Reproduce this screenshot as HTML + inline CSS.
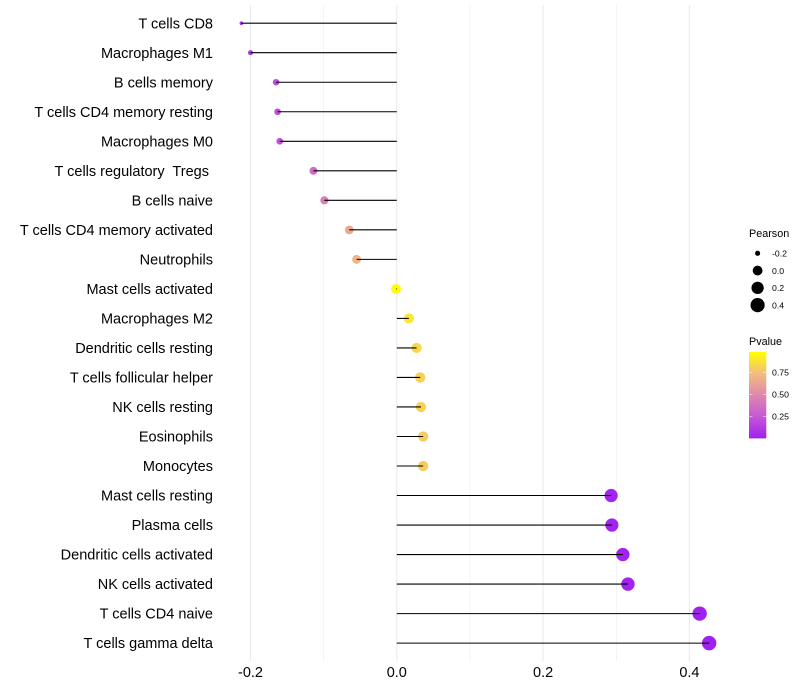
<!DOCTYPE html>
<html>
<head>
<meta charset="utf-8">
<style>
html,body{margin:0;padding:0;background:#fff;width:800px;height:700px;overflow:hidden}
svg{display:block;font-family:"Liberation Sans",sans-serif}
text{white-space:pre}
</style>
</head>
<body>
<svg id="chart" xmlns="http://www.w3.org/2000/svg" width="800" height="700" viewBox="0 0 800 700">
  <defs>
    <linearGradient id="pvalue-gradient" x1="0" y1="1" x2="0" y2="0">
      <stop offset="0" stop-color="#A020F0"/>
      <stop offset="0.25" stop-color="#C458D4"/>
      <stop offset="0.5" stop-color="#DF88AE"/>
      <stop offset="0.75" stop-color="#F3BC7E"/>
      <stop offset="1" stop-color="#FFFF00"/>
    </linearGradient>
  </defs>
  <rect x="0" y="0" width="800" height="700" fill="#ffffff"/>
  <g id="grid"></g>
  <g id="points"></g>
  <g id="segments"></g>
  <g id="ylabels"></g>
  <g id="xlabels"></g>
  <g id="size-legend">
    <text x="749" y="237" font-size="10.8" fill="#000">Pearson</text>
  </g>
  <g id="color-legend">
    <text x="749" y="345" font-size="10.8" fill="#000">Pvalue</text>
    <rect x="749" y="352" width="17.3" height="86.4" fill="url(#pvalue-gradient)"/>
  </g>
</svg>
<script>
const categories = ["T cells CD8","Macrophages M1","B cells memory","T cells CD4 memory resting","Macrophages M0","T cells regulatory  Tregs ","B cells naive","T cells CD4 memory activated","Neutrophils","Mast cells activated","Macrophages M2","Dendritic cells resting","T cells follicular helper","NK cells resting","Eosinophils","Monocytes","Mast cells resting","Plasma cells","Dendritic cells activated","NK cells activated","T cells CD4 naive","T cells gamma delta"];
const pearson = [-0.2125,-0.2,-0.165,-0.163,-0.16,-0.114,-0.099,-0.065,-0.055,-0.001,0.0165,0.027,0.032,0.033,0.036,0.036,0.293,0.294,0.309,0.316,0.414,0.427];
const pvalue = [0.10,0.12,0.20,0.21,0.22,0.36,0.45,0.66,0.71,0.99,0.91,0.85,0.83,0.83,0.81,0.81,0.02,0.02,0.015,0.012,0.001,0.001];
const xTicks = [-0.2,0,0.2,0.4];
const xTickLabels = ["-0.2","0.0","0.2","0.4"];
const xMinorTicks = [-0.1,0.1,0.3];
const sizeLegendValues = [-0.2,0,0.2,0.4];
const sizeLegendLabels = ["-0.2","0.0","0.2","0.4"];
const colorLegendValues = [0.75,0.5,0.25];
const colorLegendLabels = ["0.75","0.50","0.25"];

const NS = "http://www.w3.org/2000/svg";
function make(tag, attrs, parent) {
  const el = document.createElementNS(NS, tag);
  for (const k in attrs) el.setAttribute(k, attrs[k]);
  parent.appendChild(el);
  return el;
}
function x(v) { return 396.8 + v * 731.5; }
function y(i) { return 23.2 + i * 29.52; }
const sizeMin = Math.min(...pearson);
const sizeMax = Math.max(...pearson);
function radius(v) { return 1.8 + 5.4 * Math.sqrt(Math.max(0, (v - sizeMin) / (sizeMax - sizeMin))); }
const colorStops = [[0,[160,32,240]],[0.25,[196,88,212]],[0.5,[223,136,174]],[0.75,[243,188,126]],[1,[255,255,0]]];
function color(p) {
  for (let i = 1; i < colorStops.length; i++) {
    if (p <= colorStops[i][0]) {
      const a = colorStops[i-1], b = colorStops[i];
      const t = (p - a[0]) / (b[0] - a[0]);
      const c = a[1].map((ch, j) => Math.round(ch + (b[1][j] - ch) * t));
      return "rgb(" + c.join(",") + ")";
    }
  }
  return "rgb(255,255,0)";
}
function pvalY(p) { return 438.5 - p * 88; }

const gridG = document.getElementById("grid");
xMinorTicks.forEach(function (t) {
  const l = make("line", {x1:x(t), x2:x(t), y1:5, y2:661, stroke:"#ebebeb", "stroke-width":0.55}, gridG);
  
  
});
xTicks.forEach(function (t) {
  const l = make("line", {x1:x(t), x2:x(t), y1:5, y2:661, stroke:"#ebebeb", "stroke-width":1.07}, gridG);
  
  
});

const pointG = document.getElementById("points");
const segG = document.getElementById("segments");
const yG = document.getElementById("ylabels");
categories.forEach(function (name, i) {
  const c = make("circle", {cx:x(pearson[i]), cy:y(i), r:radius(pearson[i]), fill:color(pvalue[i])}, pointG);
  
  
  const s = make("line", {x1:x(0), x2:x(pearson[i]), y1:y(i), y2:y(i), stroke:"#000", "stroke-width":1.07}, segG);
  
  
  const t = make("text", {x:213, y:y(i) + 5.1, "text-anchor":"end", "font-size":14.5, fill:"#000"}, yG);
  
  
  t.textContent = name;
});

const xG = document.getElementById("xlabels");
xTicks.forEach(function (v, i) {
  const t = make("text", {x:x(v), y:677, "text-anchor":"middle", "font-size":14.5, fill:"#000"}, xG);
  
  
  t.textContent = xTickLabels[i];
});

const sizeG = document.getElementById("size-legend");
sizeLegendValues.forEach(function (v, i) {
  const cy = 253.3 + i * 17.28;
  const c = make("circle", {cx:757.6, cy:cy, r:radius(v), fill:"#000"}, sizeG);
  
  
  const t = make("text", {x:772, y:cy + 3.2, "font-size":8.7, fill:"#000"}, sizeG);
  
  
  t.textContent = sizeLegendLabels[i];
});

const colorG = document.getElementById("color-legend");
colorLegendValues.forEach(function (v, i) {
  const py = pvalY(v);
  const a = make("line", {x1:749, x2:752.5, y1:py, y2:py, stroke:"#fff", "stroke-width":0.6, "stroke-opacity":0.8}, colorG);
  
  
  const b = make("line", {x1:762.8, x2:766.3, y1:py, y2:py, stroke:"#fff", "stroke-width":0.6, "stroke-opacity":0.8}, colorG);
  
  
  const t = make("text", {x:772, y:py + 3.2, "font-size":8.7, fill:"#000"}, colorG);
  
  
  t.textContent = colorLegendLabels[i];
});
</script>
</body>
</html>
